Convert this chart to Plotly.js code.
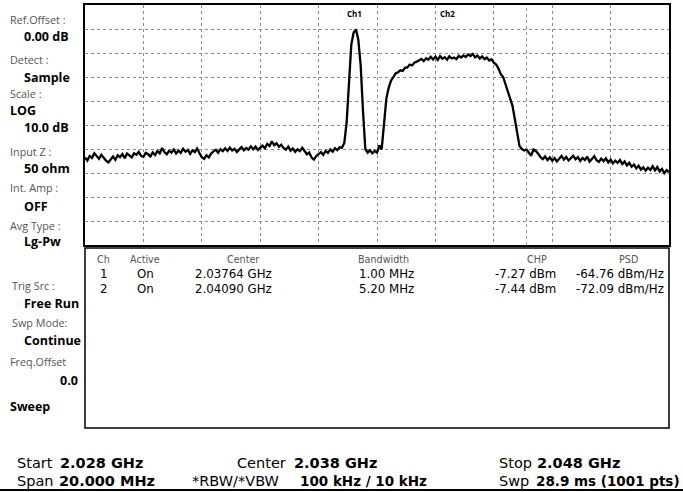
<!DOCTYPE html>
<html>
<head>
<meta charset="utf-8">
<script src="https://cdn.plot.ly/plotly-3.0.1.min.js"></script>
<style>html,body{margin:0;padding:0;background:#fff;}#chart{width:683px;height:492px;}</style>
</head>
<body>
<div id="chart"></div>
<script>
// ---- sweep definition ----
const startGHz = 2.028;
const stopGHz = 2.048;
// ---- trace amplitude (dBm), 251 evenly spaced sweep points ----
const traceDbm = [
-63.5,-64.8,-62.9,-63.7,-61.8,-63.2,-64.1,-62.4,-63.6,-64.9,
-65.6,-64.2,-63.1,-64.5,-62.6,-63.4,-62.1,-63.8,-61.9,-62.7,
-63.5,-61.8,-62.4,-61.2,-62.9,-63.3,-61.6,-62.2,-63.1,-61.4,
-62.5,-60.9,-61.8,-59.6,-61.3,-62.2,-60.8,-61.5,-60.2,-61.9,
-60.7,-61.6,-59.9,-61.1,-60.4,-62.0,-60.6,-61.3,-59.8,-61.7,
-63.4,-64.1,-62.6,-63.5,-61.9,-61.0,-60.3,-61.6,-60.1,-60.9,
-59.7,-60.8,-59.4,-60.6,-59.9,-61.2,-60.0,-59.2,-60.5,-59.6,
-60.3,-58.9,-60.1,-59.0,-60.4,-59.3,-58.6,-59.7,-57.9,-58.8,
-56.8,-58.4,-57.6,-59.1,-58.2,-59.6,-60.3,-59.0,-60.7,-59.8,
-61.2,-60.1,-60.9,-59.5,-60.8,-62.2,-61.5,-63.6,-64.4,-62.9,
-62.1,-61.3,-62.4,-60.8,-61.6,-60.2,-61.1,-59.7,-60.5,-59.3,
-59.5,-57.5,-49.0,-30.0,-16.5,-11.5,-10.2,-14.5,-25.0,-44.0,
-60.0,-61.5,-60.5,-61.8,-60.8,-61.5,-58.5,-60.2,-48.0,-39.0,
-34.5,-31.5,-30.0,-28.5,-28.0,-27.2,-27.5,-26.2,-26.0,-24.8,
-25.2,-24.0,-23.6,-23.2,-22.5,-23.4,-22.2,-22.8,-21.6,-22.7,
-21.5,-22.9,-21.3,-22.4,-21.8,-22.8,-21.4,-22.3,-21.9,-22.6,
-21.2,-21.9,-21.0,-21.7,-20.6,-21.3,-20.4,-21.8,-21.1,-22.3,
-21.4,-22.6,-21.9,-23.1,-22.6,-24.0,-24.8,-26.5,-28.8,-30.0,
-32.8,-35.5,-38.5,-42.0,-47.5,-53.5,-58.8,-60.0,-60.6,-60.2,
-61.5,-62.8,-60.2,-60.8,-62.0,-63.4,-64.2,-63.1,-64.6,-63.5,
-64.9,-63.8,-65.2,-64.0,-62.9,-64.4,-63.3,-64.8,-63.6,-62.8,
-64.3,-63.4,-65.0,-63.7,-64.6,-63.2,-65.3,-64.1,-63.0,-64.7,
-65.4,-64.0,-65.1,-63.9,-65.6,-64.4,-66.0,-64.9,-65.8,-64.6,
-66.3,-65.2,-66.9,-65.7,-67.4,-66.5,-68.1,-67.0,-68.6,-67.6,
-69.0,-67.8,-68.7,-67.2,-68.9,-67.5,-69.4,-68.3,-70.1,-68.8,
-69.6
];
// ---- channel markers ----
const chLabels = ["Ch1", "Ch2"];
const chLabelFreqGHz = [2.03724, 2.0404];
// ---- side panel ----
const sideLabels = ["Ref.Offset :", "Detect :", "Scale :", "Input Z :", "Int. Amp :", "Avg Type :", "Trig Src :", "Swp Mode:", "Freq.Offset"];
const sideValues = ["0.00 dB", "Sample", "LOG", "10.0 dB", "50 ohm", "OFF", "Lg-Pw", "Free Run", "Continue", "0.0", "Sweep"];
// ---- channel power table ----
const tableHeaders = ["Ch", "Active", "Center", "Bandwidth", "CHP", "PSD"];
const tableRow1 = ["1", "On", "2.03764 GHz", "1.00 MHz", "-7.27 dBm", "-64.76 dBm/Hz"];
const tableRow2 = ["2", "On", "2.04090 GHz", "5.20 MHz", "-7.44 dBm", "-72.09 dBm/Hz"];
// ---- bottom status (label, value) ----
const statusTopLabels = ["Start", "Center", "Stop"];
const statusTopValues = ["2.028 GHz", "2.038 GHz", "2.048 GHz"];
const statusBottomLabels = ["Span", "*RBW/*VBW", "Swp"];
const statusBottomValues = ["20.000 MHz", "100 kHz / 10 kHz", "28.9 ms (1001 pts)"];

// ---- build ----
const n = traceDbm.length;
const freqGHz = traceDbm.map((_, i) => startGHz + i * (stopGHz - startGHz) / (n - 1));

const L = 85, R = 669, T = 5, B = 245;
function px(x) { return (x - L) / (R - L); }
function py(y) { return (B - y) / (B - T); }
const FONT = "'Open Sans', Lato, sans-serif";
const WIDE = "'DejaVu Sans', 'Open Sans', sans-serif";

const ann = [];
function txt(s, x, y, opts) {
  opts = opts || {};
  ann.push({
    text: s, xref: 'paper', yref: 'paper', x: px(x), y: py(y),
    xanchor: opts.xa || 'left', yanchor: 'middle', showarrow: false, align: opts.xa || 'left',
    font: {family: opts.family || FONT, size: opts.size || 10, color: opts.color || '#000', weight: opts.weight || 'normal'}
  });
}

// side panel
const labelPos = [[8,19],[8,60],[8,93],[8,151],[8,187],[8,225],[10,285],[10,322],[8,361]];
sideLabels.forEach((s, i) => txt(s, labelPos[i][0], labelPos[i][1], {size: 10.8, color: '#555'}));
const valuePos = [[22,37,'left'],[22,77,'left'],[8,110,'left'],[22,127,'left'],[22,168,'left'],[22,206,'left'],[22,241,'left'],[22,303,'left'],[22,340,'left'],[80,380,'right'],[8,406,'left']];
sideValues.forEach((s, i) => txt(s, valuePos[i][0], valuePos[i][1], {xa: valuePos[i][2], size: 12.5, weight: 'bold'}));

// channel labels
chLabels.forEach((s, i) => ann.push({
  text: '<b>' + s + '</b>', xref: 'x', yref: 'paper', x: chLabelFreqGHz[i], y: py(14),
  xanchor: 'center', yanchor: 'middle', showarrow: false,
  font: {family: FONT, size: 8, color: '#000'}
}));

// table
const hdrX = [103, 145, 243, 383, 537, 628];
const rowX = [104, 145, 233, 386, 525, 620];
tableHeaders.forEach((s, i) => txt(s, hdrX[i], 259, {xa: 'center', size: 9.6, color: '#555', family: WIDE}));
tableRow1.forEach((s, i) => txt(s, rowX[i], 274, {xa: 'center', size: 11.8, family: WIDE}));
tableRow2.forEach((s, i) => txt(s, rowX[i], 289, {xa: 'center', size: 11.8, family: WIDE}));

// status bar
const topLabX = [15, 235, 497], topValX = [58, 292, 535];
const botLabX = [15, 190, 497], botValX = [57, 298, 682];
const botValSize = [14.5, 13.5, 13.5];
statusTopLabels.forEach((s, i) => txt(s, topLabX[i], 463, {size: 14.5, family: WIDE}));
statusTopValues.forEach((s, i) => txt(s, topValX[i], 463, {size: 14.5, family: WIDE, weight: 'bold'}));
statusBottomLabels.forEach((s, i) => txt(s, botLabX[i], 481, {size: 14.5, family: WIDE}));
statusBottomValues.forEach((s, i) => txt(s, botValX[i], 481, {size: botValSize[i], family: WIDE, weight: 'bold', xa: i === 2 ? 'right' : 'left'}));

const shapes = [
  // table box
  {type: 'rect', xref: 'paper', yref: 'paper', x0: px(85), x1: px(669), y0: py(428), y1: py(248),
   line: {color: '#000', width: 1.5}},
  // bottom rule
  {type: 'line', xref: 'paper', yref: 'paper', x0: px(0), x1: px(683), y0: py(490), y1: py(490),
   line: {color: '#000', width: 2}},
  // channel edge marker
  {type: 'line', xref: 'x', yref: 'paper', x0: 2.04312, x1: 2.04312, y0: 0, y1: 1,
   line: {color: '#999', width: 1, dash: 'dot'}}
];

const trace = {
  x: freqGHz, y: traceDbm, type: 'scatter', mode: 'lines',
  line: {color: '#000', width: 2.3}, hoverinfo: 'skip'
};

const layout = {
  width: 683, height: 492,
  margin: {l: L, r: 683 - R, t: T, b: 492 - B},
  paper_bgcolor: '#fff', plot_bgcolor: '#fff',
  showlegend: false,
  xaxis: {range: [startGHz, stopGHz], tick0: startGHz, dtick: 0.002, showticklabels: false, ticks: '',
          showgrid: true, gridcolor: '#8a8a8a', griddash: 'dot', gridwidth: 1,
          zeroline: false, showline: true, mirror: true, linecolor: '#000', linewidth: 2, fixedrange: true},
  yaxis: {range: [-100, 0], tick0: 0, dtick: 10, showticklabels: false, ticks: '',
          showgrid: true, gridcolor: '#8a8a8a', griddash: 'dot', gridwidth: 1,
          zeroline: false, showline: true, mirror: true, linecolor: '#000', linewidth: 2, fixedrange: true},
  annotations: ann,
  shapes: shapes
};

Plotly.newPlot('chart', [trace], layout, {staticPlot: true, displayModeBar: false});
</script>
</body>
</html>
